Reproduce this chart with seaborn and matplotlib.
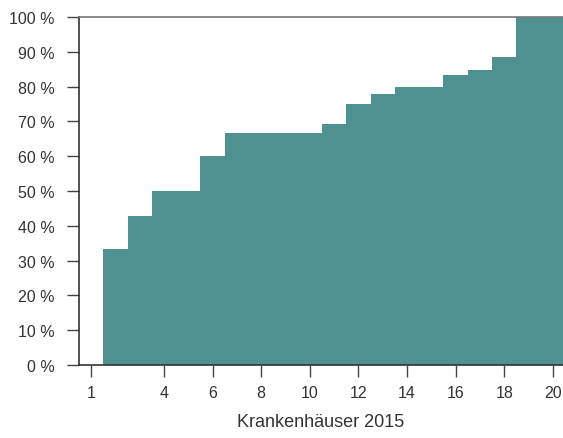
import numpy as np
import pandas as pd
import matplotlib
matplotlib.use("Agg")
import matplotlib.pyplot as plt
import seaborn as sns

# Kumulierter Anteil je Krankenhaus (in %)
krankenhaeuser = list(range(1, 21))
anteil = [0, 33.3, 42.9, 50, 50, 60, 66.7, 66.7, 66.7, 66.7,
          69.2, 75, 77.8, 80, 80, 83.3, 84.9, 88.4, 100, 100]
x_ticks = [1, 4, 6, 8, 10, 12, 14, 16, 18, 20]
y_ticks = [0, 10, 20, 30, 40, 50, 60, 70, 80, 90, 100]

df = pd.DataFrame({"Krankenhaus": krankenhaeuser, "Anteil": anteil})

sns.set_style("white")
plt.rcParams["font.family"] = ["Liberation Sans", "DejaVu Sans"]

fig = plt.figure(figsize=(5.63, 4.39), dpi=100)
ax = fig.add_axes([0.1403, 0.1663, 0.8597, 0.7927])

sns.histplot(data=df, x="Krankenhaus", weights="Anteil", discrete=True,
             element="step", fill=True, color="#4f9190", alpha=1,
             linewidth=0, ax=ax)

ax.set_xlim(0.5, 20.42)
ax.set_ylim(0, 100)
ax.set_xticks(x_ticks)
ax.set_xticklabels([str(v) for v in x_ticks])
ax.set_yticks(y_ticks)
ax.set_yticklabels([f"{v} %" for v in y_ticks])
ax.set_ylabel("")
ax.set_xlabel("Krankenhäuser 2015", fontsize=13, color="#333333", labelpad=9)

ax.tick_params(axis="both", direction="out", length=8.6, width=1,
               color="#444444", labelsize=11.5, labelcolor="#333333",
               bottom=True, left=True)
ax.tick_params(axis="x", pad=6)
ax.tick_params(axis="y", pad=9)

for s in ["left", "bottom"]:
    ax.spines[s].set_color("#333333")
    ax.spines[s].set_linewidth(1.2)
ax.spines["top"].set_color("#777777")
ax.spines["top"].set_linewidth(1.2)
ax.spines["right"].set_visible(False)

fig.savefig("out.png", dpi=100)
